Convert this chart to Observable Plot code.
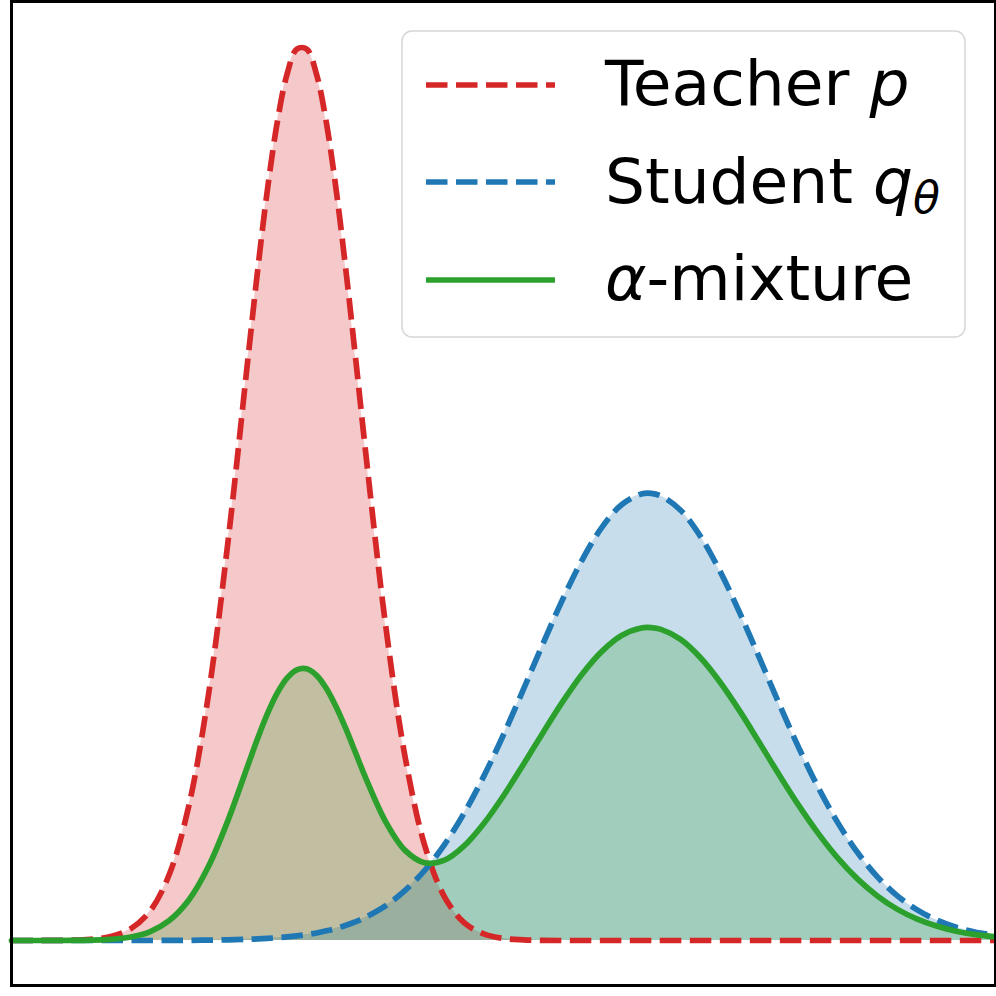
<!DOCTYPE html>
<html><head><meta charset="utf-8">
<script src="https://cdn.jsdelivr.net/npm/d3@7"></script>
<script src="https://cdn.jsdelivr.net/npm/@observablehq/plot@0.6"></script>
<style>html,body{margin:0;padding:0;background:#fff;} svg{display:block;}</style>
</head><body><div id="chart"></div>
<script>
const xs = [-5.0,-4.8,-4.6,-4.4,-4.2,-4.0,-3.8,-3.6,-3.4,-3.2,-3.0,-2.8,-2.6,-2.5,-2.4,-2.3,-2.2,-2.1,-2.0,-1.9,-1.8,-1.7,-1.6,-1.5,-1.4,-1.2,-1.0,-0.8,-0.6,-0.4,-0.2,0.0,0.2,0.4,0.6,0.8,1.0,1.2,1.4,1.5,1.6,1.8,2.0,2.2,2.4,2.6,2.8,3.0,3.2,3.4,3.6,3.8,4.0,4.2,4.4,4.6,4.8,5.0];
const teacher = [0,0,0.0001,0.0002,0.0009,0.0029,0.0083,0.0214,0.0493,0.1011,0.1849,0.3013,0.4378,0.5054,0.5669,0.6179,0.6545,0.6736,0.6736,0.6545,0.6179,0.5669,0.5054,0.4378,0.3684,0.2394,0.1387,0.0717,0.0330,0.0135,0.0050,0.0016,0.0005,0.0001,0,0,0,0,0,0,0,0,0,0,0,0,0,0,0,0,0,0,0,0,0,0,0,0];
const student = [0,0,0,0,0,0,0,0,0.0001,0.0001,0.0003,0.0005,0.0009,0.0012,0.0016,0.0021,0.0027,0.0035,0.0045,0.0057,0.0073,0.0092,0.0115,0.0142,0.0176,0.0261,0.0378,0.0531,0.0725,0.0963,0.1242,0.1555,0.1894,0.2241,0.2576,0.2877,0.3122,0.3293,0.3374,0.3379,0.3359,0.3251,0.3056,0.2791,0.2478,0.2137,0.1791,0.1458,0.1154,0.0887,0.0663,0.0481,0.0339,0.0233,0.0155,0.0100,0.0063,0.0039];
const mixture = [0,0,0,0.0001,0.0003,0.0009,0.0025,0.0064,0.0149,0.0304,0.0557,0.0908,0.1319,0.1524,0.1712,0.1869,0.1983,0.2046,0.2053,0.2004,0.1905,0.1765,0.1597,0.1412,0.1228,0.0901,0.0681,0.0587,0.0607,0.0715,0.0884,0.1094,0.1328,0.1569,0.1803,0.2014,0.2185,0.2305,0.2362,0.2365,0.2351,0.2276,0.2139,0.1954,0.1735,0.1496,0.1254,0.1021,0.0808,0.0621,0.0464,0.0337,0.0237,0.0163,0.0109,0.0070,0.0044,0.0027];

const RED = "#d62728", BLUE = "#1f77b4", GREEN = "#2ca02c";
const DASH = "21.5,8.5";
const LW = 5.7;
const CURVE = "catmull-rom";

const rows = xs.map((x, i) => ({x, teacher: teacher[i], student: student[i], mixture: mixture[i]}));

const svg = Plot.plot({
  width: 996, height: 996,
  marginLeft: 11, marginRight: 1, marginTop: 1, marginBottom: 11,
  x: {domain: [-5, 5], axis: null},
  y: {domain: [-0.034, 0.7096], axis: null},
  style: {background: "#fff"},
  marks: [
    Plot.areaY(rows, {x: "x", y: "teacher", fill: RED, fillOpacity: 0.25, curve: CURVE}),
    Plot.areaY(rows, {x: "x", y: "student", fill: BLUE, fillOpacity: 0.25, curve: CURVE}),
    Plot.areaY(rows, {x: "x", y: "mixture", fill: GREEN, fillOpacity: 0.25, curve: CURVE}),
    Plot.lineY(rows, {x: "x", y: "teacher", stroke: RED, strokeWidth: LW, strokeDasharray: DASH, strokeLinecap: "butt", curve: CURVE}),
    Plot.lineY(rows, {x: "x", y: "student", stroke: BLUE, strokeWidth: LW, strokeDasharray: DASH, strokeLinecap: "butt", curve: CURVE}),
    Plot.lineY(rows, {x: "x", y: "mixture", stroke: GREEN, strokeWidth: LW, curve: CURVE}),
    Plot.frame({stroke: "black", strokeWidth: 3})
  ]
});

// Legend (inside plot, upper right)
const g = d3.select(svg).append("g").attr("text-anchor", "start");
g.append("rect").attr("x", 402).attr("y", 31).attr("width", 563).attr("height", 306)
  .attr("rx", 10).attr("fill", "#fff").attr("fill-opacity", 0.8)
  .attr("stroke", "#d6d6d6").attr("stroke-width", 1.5);
const items = [
  {y: 85, color: RED, dash: DASH},
  {y: 182, color: BLUE, dash: DASH},
  {y: 280, color: GREEN, dash: null}
];
items.forEach(it => {
  const l = g.append("line").attr("x1", 426).attr("x2", 555).attr("y1", it.y).attr("y2", it.y)
    .attr("stroke", it.color).attr("stroke-width", LW).attr("stroke-linecap", "butt");
  if (it.dash) l.attr("stroke-dasharray", it.dash);
});
const font = "DejaVu Sans";
function label(y) {
  return g.append("text").attr("x", 605).attr("y", y).attr("text-anchor", "start")
    .attr("font-family", font).attr("font-size", 63).attr("fill", "#000");
}
const t1 = label(105);
t1.append("tspan").text("Teacher ");
t1.append("tspan").attr("font-style", "italic").text("p");
const t2 = label(203);
t2.append("tspan").text("Student ");
t2.append("tspan").attr("font-style", "italic").text("q");
t2.append("tspan").attr("font-style", "italic").attr("font-size", 44).attr("dy", 10).text("θ");
const t3 = label(300);
t3.append("tspan").attr("font-style", "italic").text("α");
t3.append("tspan").text("-mixture");

document.getElementById("chart").appendChild(svg);
</script>
</body></html>
